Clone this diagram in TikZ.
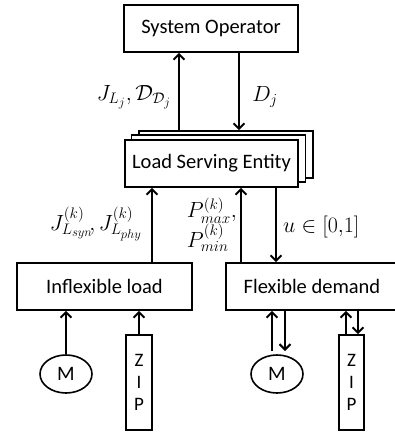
\documentclass[tikz,border=0pt]{standalone}
\usepackage{fontspec}
\setmainfont{Carlito}
\DeclareMathSizes{20.74}{20.74}{14.4}{12}
\usetikzlibrary{arrows.meta,shapes.geometric}
\begin{document}
\begin{tikzpicture}[x=1pt,y=-1pt,
  box/.style={draw,line width=1.6pt,fill=white,inner sep=0pt,font=\fontsize{20.5}{24}\selectfont},
  arr/.style={line width=2pt,-{Straight Barb[length=5.5pt,width=11pt,line width=2pt]}},
  lbl/.style={font=\fontsize{20.74}{24}\selectfont,inner sep=0pt,scale=1.06}]
\useasboundingbox (0,0) rectangle (395,432);
\node[box,minimum width=174pt,minimum height=47pt] (so) at (211,28.5) {System Operator};
\node[box,minimum width=174pt,minimum height=47pt] (lse3) at (226,154.5) {};
\node[box,minimum width=174pt,minimum height=47pt] (lse2) at (218.5,158.5) {};
\node[box,minimum width=173pt,minimum height=47pt] (lse) at (211.5,163.5) {Load Serving Entity};
\node[box,minimum width=175pt,minimum height=47pt] (inf) at (104.5,286.5) {Inflexible load};
\node[box,minimum width=172pt,minimum height=47pt] (flex) at (312,286.5) {Flexible demand};
\node[box,ellipse,minimum width=52pt,minimum height=38pt] (m1) at (66,374) {M};
\node[box,ellipse,minimum width=52pt,minimum height=38pt] (m2) at (277,374) {M};
\node[box,minimum width=26pt,minimum height=95pt,align=center,font=\fontsize{19}{22}\selectfont] (z1) at (139,382.5) {Z\\I\\P};
\node[box,minimum width=25pt,minimum height=95pt,align=center,font=\fontsize{19}{22}\selectfont] (z2) at (351.5,382.5) {Z\\I\\P};
% connectors
\coordinate (a1) at (179,0);
\coordinate (a2) at (239,0);
\coordinate (a3) at (152,0);
\coordinate (a4) at (241,0);
\coordinate (a5) at (276,0);
\coordinate (m2u) at (272,351);
\coordinate (m2d) at (285,351);
\coordinate (z2u) at (346,0);
\coordinate (z2d) at (358,0);
\draw[arr] (lse3.north -| a1) -- (so.south -| a1);
\draw[arr,line width=1.6pt] (so.south -| a2) -- (lse3.north -| a2);
\draw[arr] (inf.north -| a3) -- (lse.south -| a3);
\draw[arr] (flex.north -| a4) -- (lse.south -| a4);
\draw[arr,line width=1.6pt] (lse.south -| a5) -- (flex.north -| a5);
\draw[arr] (m1.north) -- (inf.south -| m1.north);
\draw[arr] (z1.north) -- (inf.south -| z1.north);
\draw[arr] (m2u) -- (flex.south -| m2u);
\draw[arr] (flex.south -| m2d) -- (m2d);
\draw[arr] (z2.north -| z2u) -- (flex.south -| z2u);
\draw[arr] (flex.south -| z2d) -- (z2.north -| z2d);
% labels
\node[lbl] (l1) at (134,97) {$J_{L_j},\mathcal{D}_{\mathcal{D}_j}$};
\node[lbl] (l2) at (265,97) {$D_j$};
\node[lbl] (l3) at (96,224) {$J^{(k)}_{L_{syn}}\!,J^{(k)}_{L_{phy}}$};
\node[lbl,anchor=east] (l4) at (237,226) {$\renewcommand{\arraystretch}{0.85}\begin{array}{@{}l@{}}P^{(k)}_{max},\\P^{(k)}_{min}\end{array}$};
\node[lbl,anchor=west] (l5) at (283,227) {$u\in[0{,}1]$};
\end{tikzpicture}
\end{document}
